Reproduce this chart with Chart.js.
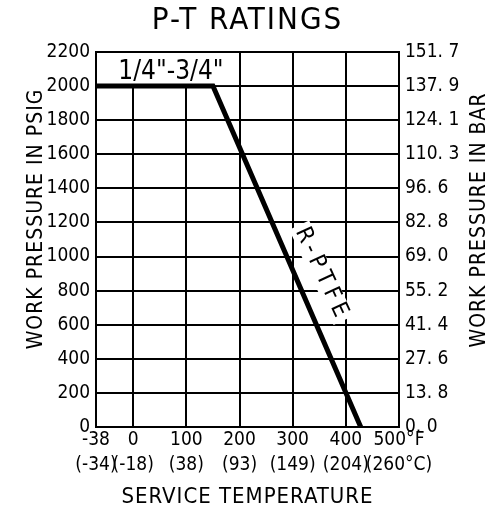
<!DOCTYPE html>
<html><head><meta charset="utf-8">
<script src="https://cdn.jsdelivr.net/npm/chart.js@4"></script>
<style>html,body{margin:0;padding:0;background:#fff}#wrap{width:499px;height:510px}</style>
</head><body><div id="wrap"><canvas id="c"></canvas></div>
<script>
const chartTitle = 'P-T RATINGS';
const xTitle = 'SERVICE TEMPERATURE';
const yTitle = 'WORK PRESSURE IN PSIG';
const y2Title = 'WORK PRESSURE IN BAR';
const sizeLabel = '1/4"-3/4"';
const seriesLabel = 'R-PTFE';

const tempF = [-38, 150, 428];
const pressurePsi = [2000, 2000, 0];

const tempTicksF = [-38, 0, 100, 200, 300, 400, 500];
const tempTickLabelsF = ['-38', '0', '100', '200', '300', '400', '500°F'];
const tempTickLabelsC = ['(-34)', '(-18)', '(38)', '(93)', '(149)', '(204)', '(260°C)'];
const psiTicks = [0, 200, 400, 600, 800, 1000, 1200, 1400, 1600, 1800, 2000, 2200];
const barTickLabels = ['0. 0', '13. 8', '27. 6', '41. 4', '55. 2', '69. 0', '82. 8', '96. 6', '110. 3', '124. 1', '137. 9', '151. 7'];

// The reference axis is broken below 0°F: the -38..0 span is stretched.
const NEG_SPAN = 70;
function axisX(t) { return t < 0 ? t / Math.abs(tempTicksF[0]) * NEG_SPAN : t; }

const TICK_FONT = "'Liberation Sans Narrow', 'DejaVu Sans Condensed', sans-serif";
const TEXT_FONT = "'DejaVu Sans Condensed', 'DejaVu Sans', sans-serif";
Chart.defaults.color = '#000';
Chart.defaults.font.family = TICK_FONT;

const annotate = {
  id: 'annotate',
  beforeDatasetsDraw(chart) {
    const {ctx, scales: {x, y}} = chart;
    const l = x.getPixelForValue(axisX(tempTicksF[0]));
    const r = x.getPixelForValue(axisX(tempTicksF[3]));
    const t = y.getPixelForValue(psiTicks[11]);
    const b = y.getPixelForValue(psiTicks[10]);
    ctx.save();
    ctx.fillStyle = '#fff';
    ctx.fillRect(l + 1, t + 1, r - l - 2, b - t - 2);
    ctx.fillStyle = '#000';
    ctx.font = '26px ' + TEXT_FONT;
    ctx.textAlign = 'center';
    ctx.textBaseline = 'middle';
    ctx.fillText(sizeLabel, x.getPixelForValue(axisX(71)), y.getPixelForValue(2083));
    // rotated series label with knockout
    const cx = x.getPixelForValue(axisX(354)), cy = y.getPixelForValue(905);
    ctx.translate(cx, cy);
    ctx.rotate(65 * Math.PI / 180);
    ctx.font = '23px ' + TEXT_FONT;
    ctx.letterSpacing = '5px';
    const w = ctx.measureText(seriesLabel).width;
    ctx.fillStyle = '#fff';
    ctx.fillRect(-w / 2 - 2, -11, w + 4, 22);
    ctx.fillStyle = '#000';
    ctx.fillText(seriesLabel, 2, 0);
    ctx.restore();
  },
  afterDraw(chart) {
    const {ctx, chartArea} = chart;
    const midX = (chartArea.left + chartArea.right) / 2;
    ctx.save();
    ctx.fillStyle = '#000';
    ctx.textAlign = 'center';
    ctx.textBaseline = 'middle';
    ctx.font = '31px ' + TEXT_FONT;
    ctx.letterSpacing = '2px';
    ctx.fillText(chartTitle, midX, 21);
    ctx.font = '22px ' + TEXT_FONT;
    ctx.letterSpacing = '1px';
    ctx.fillText(xTitle, midX, 497);
    ctx.font = '21px ' + TEXT_FONT;
    ctx.save();
    ctx.translate(37, 219);
    ctx.rotate(-Math.PI / 2);
    ctx.fillText(yTitle, 0, 0);
    ctx.restore();
    ctx.translate(480, 220);
    ctx.rotate(-Math.PI / 2);
    ctx.fillText(y2Title, 0, 0);
    ctx.restore();
  }
};

new Chart(document.getElementById('c'), {
  type: 'line',
  data: {
    datasets: [{
      data: tempF.map((t, i) => ({x: axisX(t), y: pressurePsi[i]})),
      borderColor: '#000',
      borderWidth: 5,
      pointRadius: 0,
      tension: 0,
      fill: false
    }]
  },
  options: {
    responsive: true,
    maintainAspectRatio: false,
    animation: false,
    layout: {padding: {top: 52, left: 0, right: 0, bottom: 0}},
    plugins: {legend: {display: false}, tooltip: {enabled: false}, title: {display: false}},
    scales: {
      x: {
        type: 'linear',
        min: axisX(tempTicksF[0]),
        max: tempTicksF[tempTicksF.length - 1],
        afterBuildTicks: s => { s.ticks = tempTicksF.map(t => ({value: axisX(t)})); },
        afterFit: s => { s.height = 83; },
        grid: {color: '#000', lineWidth: 2, drawTicks: false},
        border: {color: '#000', width: 2},
        ticks: {
          autoSkip: false, maxRotation: 0, padding: 1,
          font: {size: 19, lineHeight: '25px'},
          callback: (v, i) => [tempTickLabelsF[i], tempTickLabelsC[i]]
        }
      },
      y: {
        position: 'left',
        min: 0, max: 2200,
        afterBuildTicks: s => { s.ticks = psiTicks.map(v => ({value: v})); },
        afterFit: s => { s.width = 96; },
        grid: {color: '#000', lineWidth: 2, drawTicks: false},
        border: {color: '#000', width: 2},
        ticks: {padding: 6, font: {size: 19}, callback: v => String(v)}
      },
      y2: {
        position: 'right',
        min: 0, max: 2200,
        afterBuildTicks: s => { s.ticks = psiTicks.map(v => ({value: v})); },
        afterFit: s => { s.width = 100; },
        grid: {display: false, drawTicks: false},
        border: {color: '#000', width: 2},
        ticks: {padding: 6, font: {size: 19}, callback: (v, i) => barTickLabels[i]}
      }
    }
  },
  plugins: [annotate]
});
</script>
</body></html>
